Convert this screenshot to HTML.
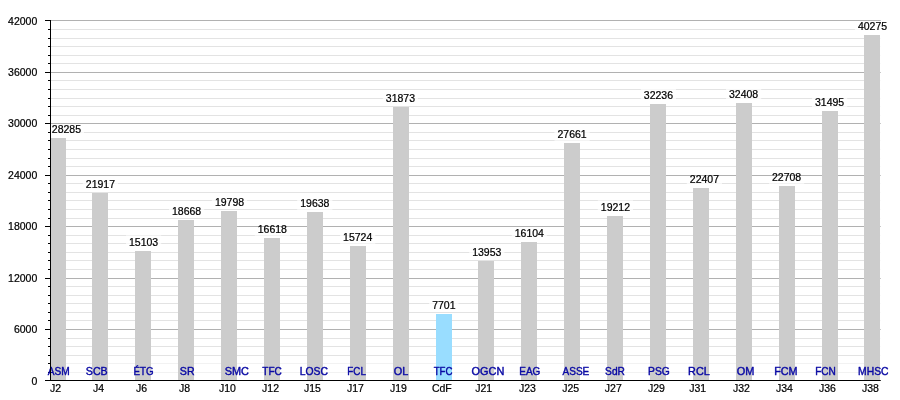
<!DOCTYPE html>
<html><head><meta charset="utf-8"><title>chart</title>
<style>
html,body{margin:0;padding:0;background:#fff;}
body{width:900px;height:400px;overflow:hidden;font-family:"Liberation Sans",sans-serif;}
svg text{font-family:"Liberation Sans",sans-serif;}
.t{font-size:10.5px;fill:#000;stroke:#000;stroke-width:0.22px;}
.b{font-size:10.5px;fill:#0909a4;stroke:#0909a4;stroke-width:0.42px;stroke-linejoin:round;}
</style></head><body>
<svg width="900" height="400" viewBox="0 0 900 400" style="display:block;will-change:transform">
<rect width="900" height="400" fill="#fff"/>
<rect x="51" y="372" width="829.20" height="1" fill="#e3e3e3"/>
<rect x="51" y="363" width="829.20" height="1" fill="#e3e3e3"/>
<rect x="51" y="355" width="829.20" height="1" fill="#e3e3e3"/>
<rect x="51" y="346" width="829.20" height="1" fill="#e3e3e3"/>
<rect x="51" y="338" width="829.20" height="1" fill="#e3e3e3"/>
<rect x="51" y="320" width="829.20" height="1" fill="#e3e3e3"/>
<rect x="51" y="312" width="829.20" height="1" fill="#e3e3e3"/>
<rect x="51" y="303" width="829.20" height="1" fill="#e3e3e3"/>
<rect x="51" y="295" width="829.20" height="1" fill="#e3e3e3"/>
<rect x="51" y="286" width="829.20" height="1" fill="#e3e3e3"/>
<rect x="51" y="269" width="829.20" height="1" fill="#e3e3e3"/>
<rect x="51" y="260" width="829.20" height="1" fill="#e3e3e3"/>
<rect x="51" y="252" width="829.20" height="1" fill="#e3e3e3"/>
<rect x="51" y="243" width="829.20" height="1" fill="#e3e3e3"/>
<rect x="51" y="235" width="829.20" height="1" fill="#e3e3e3"/>
<rect x="51" y="218" width="829.20" height="1" fill="#e3e3e3"/>
<rect x="51" y="209" width="829.20" height="1" fill="#e3e3e3"/>
<rect x="51" y="200" width="829.20" height="1" fill="#e3e3e3"/>
<rect x="51" y="192" width="829.20" height="1" fill="#e3e3e3"/>
<rect x="51" y="183" width="829.20" height="1" fill="#e3e3e3"/>
<rect x="51" y="166" width="829.20" height="1" fill="#e3e3e3"/>
<rect x="51" y="158" width="829.20" height="1" fill="#e3e3e3"/>
<rect x="51" y="149" width="829.20" height="1" fill="#e3e3e3"/>
<rect x="51" y="140" width="829.20" height="1" fill="#e3e3e3"/>
<rect x="51" y="132" width="829.20" height="1" fill="#e3e3e3"/>
<rect x="51" y="115" width="829.20" height="1" fill="#e3e3e3"/>
<rect x="51" y="106" width="829.20" height="1" fill="#e3e3e3"/>
<rect x="51" y="98" width="829.20" height="1" fill="#e3e3e3"/>
<rect x="51" y="89" width="829.20" height="1" fill="#e3e3e3"/>
<rect x="51" y="80" width="829.20" height="1" fill="#e3e3e3"/>
<rect x="51" y="63" width="829.20" height="1" fill="#e3e3e3"/>
<rect x="51" y="55" width="829.20" height="1" fill="#e3e3e3"/>
<rect x="51" y="46" width="829.20" height="1" fill="#e3e3e3"/>
<rect x="51" y="38" width="829.20" height="1" fill="#e3e3e3"/>
<rect x="51" y="29" width="829.20" height="1" fill="#e3e3e3"/>
<rect x="51" y="361" width="830" height="19" fill="#fff" opacity="0.55"/>
<rect x="48.8" y="122.3" width="35.2" height="13.5" fill="#fff" opacity="0.7"/>
<rect x="82.8" y="177.3" width="35.2" height="13.5" fill="#fff" opacity="0.7"/>
<rect x="126.0" y="235.3" width="35.2" height="13.5" fill="#fff" opacity="0.7"/>
<rect x="169.0" y="204.3" width="35.2" height="13.5" fill="#fff" opacity="0.7"/>
<rect x="211.9" y="195.3" width="35.2" height="13.5" fill="#fff" opacity="0.7"/>
<rect x="254.8" y="222.3" width="35.2" height="13.5" fill="#fff" opacity="0.7"/>
<rect x="297.2" y="196.3" width="35.2" height="13.5" fill="#fff" opacity="0.7"/>
<rect x="340.1" y="230.3" width="35.2" height="13.5" fill="#fff" opacity="0.7"/>
<rect x="382.8" y="91.3" width="35.2" height="13.5" fill="#fff" opacity="0.7"/>
<rect x="429.1" y="298.3" width="29.4" height="13.5" fill="#fff" opacity="0.7"/>
<rect x="469.2" y="245.3" width="35.2" height="13.5" fill="#fff" opacity="0.7"/>
<rect x="511.7" y="226.3" width="35.2" height="13.5" fill="#fff" opacity="0.7"/>
<rect x="554.5" y="127.3" width="35.2" height="13.5" fill="#fff" opacity="0.7"/>
<rect x="597.8" y="200.3" width="35.2" height="13.5" fill="#fff" opacity="0.7"/>
<rect x="640.8" y="88.3" width="35.2" height="13.5" fill="#fff" opacity="0.7"/>
<rect x="686.8" y="172.3" width="35.2" height="13.5" fill="#fff" opacity="0.7"/>
<rect x="726.0" y="87.3" width="35.2" height="13.5" fill="#fff" opacity="0.7"/>
<rect x="769.0" y="170.3" width="35.2" height="13.5" fill="#fff" opacity="0.7"/>
<rect x="812.0" y="95.3" width="35.2" height="13.5" fill="#fff" opacity="0.7"/>
<rect x="854.9" y="19.3" width="35.2" height="13.5" fill="#fff" opacity="0.7"/>
<rect x="51" y="380" width="829.70" height="1" fill="#b1b1b1"/>
<rect x="51" y="329" width="829.70" height="1" fill="#b1b1b1"/>
<rect x="51" y="278" width="829.70" height="1" fill="#b1b1b1"/>
<rect x="51" y="226" width="829.70" height="1" fill="#b1b1b1"/>
<rect x="51" y="175" width="829.70" height="1" fill="#b1b1b1"/>
<rect x="51" y="123" width="829.70" height="1" fill="#b1b1b1"/>
<rect x="51" y="72" width="829.70" height="1" fill="#b1b1b1"/>
<rect x="51" y="20" width="829.70" height="1" fill="#b1b1b1"/>
<rect x="51" y="138" width="15" height="242" fill="#cccccc"/>
<rect x="92" y="193" width="16" height="187" fill="#cccccc"/>
<rect x="135" y="251" width="16" height="129" fill="#cccccc"/>
<rect x="178" y="220" width="16" height="160" fill="#cccccc"/>
<rect x="221" y="211" width="16" height="169" fill="#cccccc"/>
<rect x="264" y="238" width="16" height="142" fill="#cccccc"/>
<rect x="307" y="212" width="16" height="168" fill="#cccccc"/>
<rect x="350" y="246" width="16" height="134" fill="#cccccc"/>
<rect x="393" y="107" width="16" height="273" fill="#cccccc"/>
<rect x="436" y="314" width="16" height="66" fill="#99ddff"/>
<rect x="478" y="261" width="16" height="119" fill="#cccccc"/>
<rect x="521" y="242" width="16" height="138" fill="#cccccc"/>
<rect x="564" y="143" width="16" height="237" fill="#cccccc"/>
<rect x="607" y="216" width="16" height="164" fill="#cccccc"/>
<rect x="650" y="104" width="16" height="276" fill="#cccccc"/>
<rect x="693" y="188" width="16" height="192" fill="#cccccc"/>
<rect x="736" y="103" width="16" height="277" fill="#cccccc"/>
<rect x="779" y="186" width="16" height="194" fill="#cccccc"/>
<rect x="822" y="111" width="16" height="269" fill="#cccccc"/>
<rect x="864" y="35" width="16" height="345" fill="#cccccc"/>
<rect x="45" y="380" width="5.5" height="1" fill="#000"/>
<text transform="translate(37.30 384.60) scale(1.0000 1)" text-anchor="end" class="t">0</text>
<rect x="48" y="372" width="2.5" height="1" fill="#000"/>
<rect x="48" y="363" width="2.5" height="1" fill="#000"/>
<rect x="48" y="355" width="2.5" height="1" fill="#000"/>
<rect x="48" y="346" width="2.5" height="1" fill="#000"/>
<rect x="48" y="338" width="2.5" height="1" fill="#000"/>
<rect x="45" y="329" width="5.5" height="1" fill="#000"/>
<text transform="translate(37.30 333.17) scale(1.0000 1)" text-anchor="end" class="t">6000</text>
<rect x="48" y="320" width="2.5" height="1" fill="#000"/>
<rect x="48" y="312" width="2.5" height="1" fill="#000"/>
<rect x="48" y="303" width="2.5" height="1" fill="#000"/>
<rect x="48" y="295" width="2.5" height="1" fill="#000"/>
<rect x="48" y="286" width="2.5" height="1" fill="#000"/>
<rect x="45" y="278" width="5.5" height="1" fill="#000"/>
<text transform="translate(37.30 281.74) scale(1.0000 1)" text-anchor="end" class="t">12000</text>
<rect x="48" y="269" width="2.5" height="1" fill="#000"/>
<rect x="48" y="260" width="2.5" height="1" fill="#000"/>
<rect x="48" y="252" width="2.5" height="1" fill="#000"/>
<rect x="48" y="243" width="2.5" height="1" fill="#000"/>
<rect x="48" y="235" width="2.5" height="1" fill="#000"/>
<rect x="45" y="226" width="5.5" height="1" fill="#000"/>
<text transform="translate(37.30 230.31) scale(1.0000 1)" text-anchor="end" class="t">18000</text>
<rect x="48" y="218" width="2.5" height="1" fill="#000"/>
<rect x="48" y="209" width="2.5" height="1" fill="#000"/>
<rect x="48" y="200" width="2.5" height="1" fill="#000"/>
<rect x="48" y="192" width="2.5" height="1" fill="#000"/>
<rect x="48" y="183" width="2.5" height="1" fill="#000"/>
<rect x="45" y="175" width="5.5" height="1" fill="#000"/>
<text transform="translate(37.30 178.89) scale(1.0000 1)" text-anchor="end" class="t">24000</text>
<rect x="48" y="166" width="2.5" height="1" fill="#000"/>
<rect x="48" y="158" width="2.5" height="1" fill="#000"/>
<rect x="48" y="149" width="2.5" height="1" fill="#000"/>
<rect x="48" y="140" width="2.5" height="1" fill="#000"/>
<rect x="48" y="132" width="2.5" height="1" fill="#000"/>
<rect x="45" y="123" width="5.5" height="1" fill="#000"/>
<text transform="translate(37.30 127.46) scale(1.0000 1)" text-anchor="end" class="t">30000</text>
<rect x="48" y="115" width="2.5" height="1" fill="#000"/>
<rect x="48" y="106" width="2.5" height="1" fill="#000"/>
<rect x="48" y="98" width="2.5" height="1" fill="#000"/>
<rect x="48" y="89" width="2.5" height="1" fill="#000"/>
<rect x="48" y="80" width="2.5" height="1" fill="#000"/>
<rect x="45" y="72" width="5.5" height="1" fill="#000"/>
<text transform="translate(37.30 76.03) scale(1.0000 1)" text-anchor="end" class="t">36000</text>
<rect x="48" y="63" width="2.5" height="1" fill="#000"/>
<rect x="48" y="55" width="2.5" height="1" fill="#000"/>
<rect x="48" y="46" width="2.5" height="1" fill="#000"/>
<rect x="48" y="38" width="2.5" height="1" fill="#000"/>
<rect x="48" y="29" width="2.5" height="1" fill="#000"/>
<rect x="45" y="20" width="5.5" height="1" fill="#000"/>
<text transform="translate(37.30 24.60) scale(1.0000 1)" text-anchor="end" class="t">42000</text>
<text transform="translate(66.40 132.80) scale(1.0000 1)" text-anchor="middle" class="t">28285</text>
<text transform="translate(58.60 375.00) scale(0.9643 1)" text-anchor="middle" class="b">ASM</text>
<text transform="translate(55.55 392.10) scale(1.0000 1)" text-anchor="middle" class="t">J2</text>
<text transform="translate(100.40 187.80) scale(1.0000 1)" text-anchor="middle" class="t">21917</text>
<text transform="translate(96.75 375.00) scale(1.0167 1)" text-anchor="middle" class="b">SCB</text>
<text transform="translate(98.50 392.10) scale(1.0000 1)" text-anchor="middle" class="t">J4</text>
<text transform="translate(143.55 245.80) scale(1.0000 1)" text-anchor="middle" class="t">15103</text>
<text transform="translate(143.53 375.00) scale(0.9294 1)" text-anchor="middle" class="b">ÉTG</text>
<text transform="translate(141.65 392.10) scale(1.0000 1)" text-anchor="middle" class="t">J6</text>
<text transform="translate(186.60 214.80) scale(1.0000 1)" text-anchor="middle" class="t">18668</text>
<text transform="translate(187.22 375.00) scale(1.0106 1)" text-anchor="middle" class="b">SR</text>
<text transform="translate(184.55 392.10) scale(1.0000 1)" text-anchor="middle" class="t">J8</text>
<text transform="translate(229.50 205.80) scale(1.0000 1)" text-anchor="middle" class="t">19798</text>
<text transform="translate(236.79 375.00) scale(1.0392 1)" text-anchor="middle" class="b">SMC</text>
<text transform="translate(227.35 392.10) scale(1.0000 1)" text-anchor="middle" class="t">J10</text>
<text transform="translate(272.35 232.80) scale(1.0000 1)" text-anchor="middle" class="t">16618</text>
<text transform="translate(272.06 375.00) scale(0.9595 1)" text-anchor="middle" class="b">TFC</text>
<text transform="translate(270.55 392.10) scale(1.0000 1)" text-anchor="middle" class="t">J12</text>
<text transform="translate(314.80 206.80) scale(1.0000 1)" text-anchor="middle" class="t">19638</text>
<text transform="translate(313.81 375.00) scale(0.9884 1)" text-anchor="middle" class="b">LOSC</text>
<text transform="translate(312.40 392.10) scale(1.0000 1)" text-anchor="middle" class="t">J15</text>
<text transform="translate(357.65 240.80) scale(1.0000 1)" text-anchor="middle" class="t">15724</text>
<text transform="translate(356.59 375.00) scale(0.9333 1)" text-anchor="middle" class="b">FCL</text>
<text transform="translate(355.45 392.10) scale(1.0000 1)" text-anchor="middle" class="t">J17</text>
<text transform="translate(400.40 101.80) scale(1.0000 1)" text-anchor="middle" class="t">31873</text>
<text transform="translate(400.94 375.00) scale(1.0385 1)" text-anchor="middle" class="b">OL</text>
<text transform="translate(398.40 392.10) scale(1.0000 1)" text-anchor="middle" class="t">J19</text>
<text transform="translate(443.80 308.80) scale(1.0000 1)" text-anchor="middle" class="t">7701</text>
<text transform="translate(443.12 375.00) scale(0.9235 1)" text-anchor="middle" class="b">TFC</text>
<text transform="translate(441.80 392.10) scale(1.0000 1)" text-anchor="middle" class="t">CdF</text>
<text transform="translate(486.75 255.80) scale(1.0000 1)" text-anchor="middle" class="t">13953</text>
<text transform="translate(487.96 375.00) scale(1.0398 1)" text-anchor="middle" class="b">OGCN</text>
<text transform="translate(483.65 392.10) scale(1.0000 1)" text-anchor="middle" class="t">J21</text>
<text transform="translate(529.30 236.80) scale(1.0000 1)" text-anchor="middle" class="t">16104</text>
<text transform="translate(529.82 375.00) scale(0.9527 1)" text-anchor="middle" class="b">EAG</text>
<text transform="translate(527.35 392.10) scale(1.0000 1)" text-anchor="middle" class="t">J23</text>
<text transform="translate(572.10 137.80) scale(1.0000 1)" text-anchor="middle" class="t">27661</text>
<text transform="translate(575.88 375.00) scale(0.9565 1)" text-anchor="middle" class="b">ASSE</text>
<text transform="translate(570.65 392.10) scale(1.0000 1)" text-anchor="middle" class="t">J25</text>
<text transform="translate(615.40 210.80) scale(1.0000 1)" text-anchor="middle" class="t">19212</text>
<text transform="translate(615.00 375.00) scale(0.9701 1)" text-anchor="middle" class="b">SdR</text>
<text transform="translate(613.30 392.10) scale(1.0000 1)" text-anchor="middle" class="t">J27</text>
<text transform="translate(658.40 98.80) scale(1.0000 1)" text-anchor="middle" class="t">32236</text>
<text transform="translate(658.94 375.00) scale(0.9799 1)" text-anchor="middle" class="b">PSG</text>
<text transform="translate(656.45 392.10) scale(1.0000 1)" text-anchor="middle" class="t">J29</text>
<text transform="translate(704.40 182.80) scale(1.0000 1)" text-anchor="middle" class="t">22407</text>
<text transform="translate(698.89 375.00) scale(1.0332 1)" text-anchor="middle" class="b">RCL</text>
<text transform="translate(697.65 392.10) scale(1.0000 1)" text-anchor="middle" class="t">J31</text>
<text transform="translate(743.60 97.80) scale(1.0000 1)" text-anchor="middle" class="t">32408</text>
<text transform="translate(745.57 375.00) scale(1.0436 1)" text-anchor="middle" class="b">OM</text>
<text transform="translate(741.40 392.10) scale(1.0000 1)" text-anchor="middle" class="t">J32</text>
<text transform="translate(786.55 180.80) scale(1.0000 1)" text-anchor="middle" class="t">22708</text>
<text transform="translate(785.88 375.00) scale(1.0290 1)" text-anchor="middle" class="b">FCM</text>
<text transform="translate(784.35 392.10) scale(1.0000 1)" text-anchor="middle" class="t">J34</text>
<text transform="translate(829.60 105.80) scale(1.0000 1)" text-anchor="middle" class="t">31495</text>
<text transform="translate(825.50 375.00) scale(0.9610 1)" text-anchor="middle" class="b">FCN</text>
<text transform="translate(827.40 392.10) scale(1.0000 1)" text-anchor="middle" class="t">J36</text>
<text transform="translate(872.50 29.80) scale(1.0000 1)" text-anchor="middle" class="t">40275</text>
<text transform="translate(873.31 375.00) scale(0.9860 1)" text-anchor="middle" class="b">MHSC</text>
<text transform="translate(870.45 392.10) scale(1.0000 1)" text-anchor="middle" class="t">J38</text>
<rect x="50" y="20" width="1" height="361" fill="#000"/>
<rect x="45" y="380" width="835.70" height="1" fill="#000"/>
</svg>
</body></html>
